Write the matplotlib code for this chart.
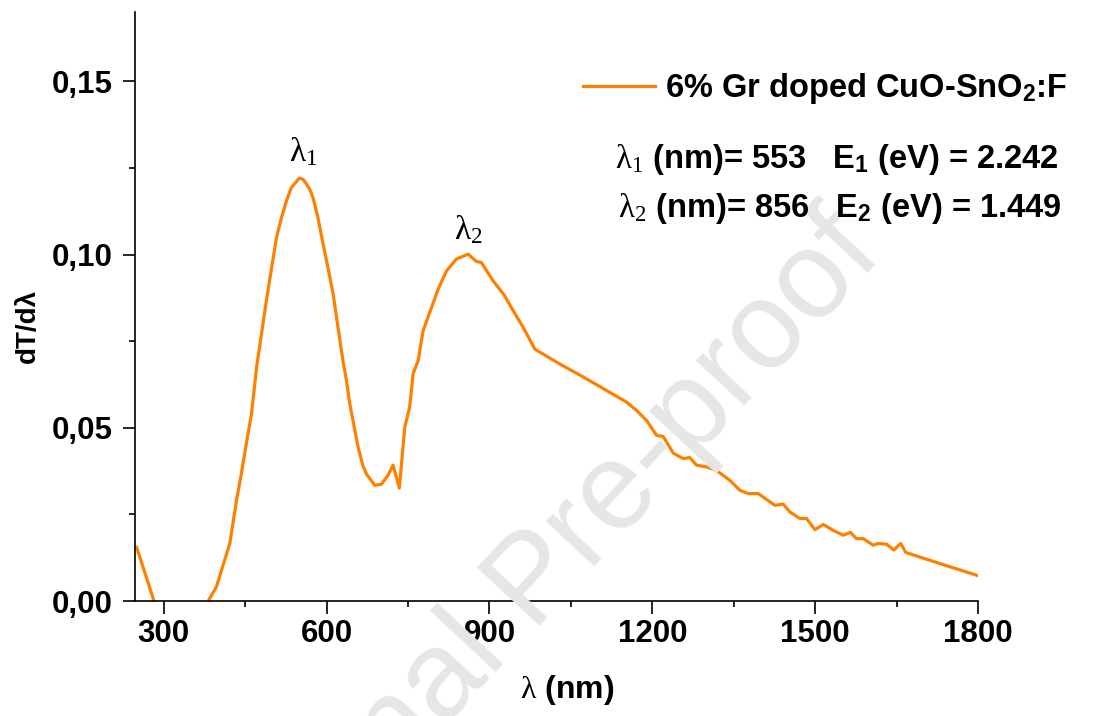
import matplotlib
matplotlib.use("Agg")
import matplotlib.pyplot as plt
from matplotlib.ticker import MultipleLocator, FuncFormatter

# ---- data ----
wavelength_nm = [250, 282, 300, 330, 360, 382, 397, 421.6, 434, 443, 452, 461.6, 471,
                 480, 489, 498.5, 507.6, 516.8, 526, 535, 549.4, 556.7, 563, 569, 575,
                 584, 593.6, 602.7, 612, 621, 630, 636.6, 642.7, 658, 667, 673.5,
                 688.8, 701, 713, 722.5, 734, 744, 753, 759.4, 768.6, 777.8, 790,
                 805.5, 821, 839, 860.7, 876, 885, 906.8, 928, 943.7, 962, 983.6,
                 1029.7, 1079, 1152.6, 1171, 1189.5, 1207.8, 1220, 1238.5, 1257, 1269,
                 1281.6, 1300, 1318, 1343, 1361, 1376.7, 1395, 1426, 1441, 1453.5,
                 1472, 1484, 1499.6, 1515, 1533, 1551.7, 1565, 1576, 1588.6, 1607,
                 1616, 1631.7, 1645, 1657.5, 1667, 1730, 1800]
dT_dlambda = [0.0155, 0.0, -0.006, -0.012, -0.008, 0.0, 0.0041, 0.0166, 0.0290, 0.0368,
              0.0454, 0.0540, 0.0675, 0.0771, 0.0867, 0.0960, 0.1049, 0.1106, 0.1155,
              0.1193, 0.1220, 0.1217, 0.1203, 0.1188, 0.1164, 0.1106, 0.1030, 0.0960,
              0.0886, 0.0790, 0.0694, 0.0636, 0.0569, 0.0444, 0.0390, 0.0366, 0.0334,
              0.0337, 0.0363, 0.0392, 0.0326, 0.0502, 0.0560, 0.0656, 0.0694, 0.0780,
              0.0833, 0.0900, 0.0953, 0.0987, 0.1001, 0.0980, 0.0977, 0.0924, 0.0881,
              0.0838, 0.0790, 0.0727, 0.0684, 0.0641, 0.0574, 0.0550, 0.0521, 0.0478,
              0.0475, 0.0427, 0.0411, 0.0414, 0.0392, 0.0387, 0.0377, 0.0348, 0.0320,
              0.0310, 0.0310, 0.0276, 0.0280, 0.0257, 0.0238, 0.0238, 0.0206, 0.0221,
              0.0204, 0.0190, 0.0198, 0.0180, 0.0180, 0.0161, 0.0166, 0.0164, 0.0147,
              0.0166, 0.0140, 0.0108, 0.0073]
series_label = r'6% Gr doped CuO-SnO$_\mathbf{2}$:F'
peak_lines = [r'$\lambda_1$ (nm)= 553   E$_\mathbf{1}$ (eV) = 2.242',
              r'$\lambda_2$ (nm)= 856   E$_\mathbf{2}$ (eV) = 1.449']
peak_tags = [r'$\lambda_1$', r'$\lambda_2$']
x_ticks = [300, 600, 900, 1200, 1500, 1800]
y_ticks = [0.00, 0.05, 0.10, 0.15]

plt.rcParams['font.family'] = ['Liberation Sans', 'DejaVu Sans']
plt.rcParams['mathtext.fontset'] = 'custom'
plt.rcParams['mathtext.rm'] = 'Liberation Serif'
plt.rcParams['mathtext.it'] = 'Liberation Serif'
plt.rcParams['mathtext.bf'] = 'Liberation Sans:bold'
plt.rcParams['mathtext.default'] = 'rm'

W, H = 1094, 716
fig = plt.figure(figsize=(W / 100, H / 100), dpi=100)
L, R, B, T = 135, 978, 601, 12
ax = fig.add_axes([L / W, 1 - B / H, (R - L) / W, (B - T) / H])

def fx(px):
    return px / W

def fy(py):
    return 1 - py / H

# watermark
fig.text(fx(535), fy(583), 'Journal Pre-proof', fontsize=89, color='#e6e6e6',
         rotation=47, ha='center', va='center', rotation_mode='anchor', zorder=0)
ax.set_facecolor('none')

orange = '#ff8000'
ax.plot(wavelength_nm, dT_dlambda, color=orange, lw=2.3, label=series_label,
        solid_joinstyle='round')

ax.set_xlim(247, 1800)
ax.set_ylim(0, 0.17)
ax.set_xticks(x_ticks)
ax.set_yticks(y_ticks)
ax.xaxis.set_minor_locator(MultipleLocator(150))
ax.yaxis.set_minor_locator(MultipleLocator(0.025))
ax.yaxis.set_major_formatter(FuncFormatter(lambda v, p: f'{v:.2f}'.replace('.', ',')))

for s in ['top', 'right']:
    ax.spines[s].set_visible(False)
for s in ['left', 'bottom']:
    ax.spines[s].set_linewidth(1.2)

ax.tick_params(which='major', direction='out', length=9, width=1.2)
ax.tick_params(which='minor', direction='out', length=4.5, width=1.2)
ax.tick_params(axis='x', which='major', labelsize=22.5, pad=4)
ax.tick_params(axis='y', which='major', labelsize=22.5, pad=7)
for lab in ax.get_xticklabels() + ax.get_yticklabels():
    lab.set_fontweight('bold')

ax.set_xlabel(r'$\lambda$ (nm)', fontsize=23, fontweight='bold')
ax.xaxis.set_label_coords((567 - L) / (R - L), (B - 690) / (B - T))
ax.xaxis.label.set_va('center')
ax.set_ylabel('dT/dλ', fontsize=20, fontweight='bold')
ax.yaxis.set_label_coords((28 - L) / (R - L), (B - 326) / (B - T))
ax.yaxis.label.set_va('center')

leg = ax.legend(loc='center left', bbox_to_anchor=(fx(583), fy(89)),
                bbox_transform=fig.transFigure, frameon=False,
                handlelength=2.2, handletextpad=0.3, borderpad=0,
                borderaxespad=0, prop={'weight': 'bold', 'size': 23.5})

fig.text(fx(615), fy(168), peak_lines[0], fontsize=23.5, fontweight='bold',
         ha='left', va='baseline')
fig.text(fx(618), fy(217), peak_lines[1], fontsize=23.5, fontweight='bold',
         ha='left', va='baseline')
fig.text(fx(303), fy(161), peak_tags[0], fontsize=24, ha='center', va='baseline')
fig.text(fx(468), fy(239), peak_tags[1], fontsize=24, ha='center', va='baseline')

fig.savefig('out.png', dpi=100)
